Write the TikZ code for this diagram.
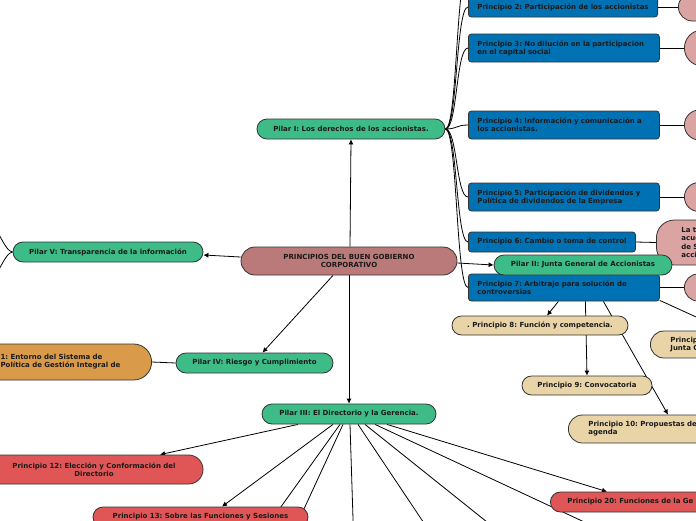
\documentclass[tikz,border=0pt]{standalone}
\usepackage{fontspec}
\setmainfont{DejaVu Sans}
\usetikzlibrary{arrows.meta,backgrounds}
\definecolor{raizc}{HTML}{BA7A79}
\definecolor{pilarc}{HTML}{3DBC87}
\definecolor{princc}{HTML}{0072B4}
\definecolor{hojac}{HTML}{DBA4A3}
\definecolor{temac}{HTML}{E9D4A7}
\definecolor{entornoc}{HTML}{D99B49}
\definecolor{dirc}{HTML}{E05656}
\definecolor{bordec}{HTML}{333333}
\definecolor{textoc}{HTML}{1A1A1A}
\tikzset{
  base/.style={draw=bordec, line width=0.8pt, text=textoc, inner sep=0pt,
    font=\fontsize{7}{8}\selectfont\bfseries\frenchspacing},
  raizbox/.style={base, fill=raizc, minimum height=28pt, rounded corners=14pt, align=center},
  pilarbox/.style={base, fill=pilarc, minimum height=20pt, rounded corners=10pt, align=center},
  princbox/.style={base, fill=princc, anchor=west, rounded corners=3pt, align=left, inner xsep=9pt},
  hojabox/.style={base, fill=hojac, anchor=west, minimum width=60pt},
  temabox/.style={base, fill=temac, minimum height=19pt, rounded corners=9.5pt, align=center},
  dirbox/.style={base, fill=dirc, minimum height=20pt, rounded corners=10pt, align=center},
  rama/.style={line width=0.8pt},
  flecha/.style={line width=0.8pt, -{Latex[length=5pt,width=5pt]}},
}
\begin{document}
\begin{tikzpicture}[x=1pt,y=-1pt]
\useasboundingbox (0,0) rectangle (696,520);
\clip (0,0) rectangle (696,520);
% centro y pilares
\node[raizbox, minimum width=216pt] (raiz) at (349,261) {PRINCIPIOS DEL BUEN GOBIERNO\\CORPORATIVO};
\node[pilarbox, minimum width=188pt] (pilarI) at (351,129) {Pilar I: Los derechos de los accionistas.};
\node[pilarbox, minimum width=190pt] (pilarV) at (108,252) {Pilar V: Transparencia de la información};
\node[pilarbox, minimum width=157pt] (pilarIV) at (254.5,363) {Pilar IV: Riesgo y Cumplimiento};
\node[pilarbox, minimum width=174pt] (pilarIII) at (349,414) {Pilar III: El Directorio y la Gerencia.};
% pilar I
\coordinate (p1) at (468,-30);
\node[princbox, minimum width=186pt, minimum height=20pt] (p2) at (468,7) {Principio 2: Participación de los accionistas};
\node[princbox, text width=173pt, minimum height=28pt] (p3) at (468,48) {Principio 3: No dilución en la participación\\en el capital social};
\node[princbox, text width=173pt, minimum height=28pt] (p4) at (468,125) {Principio 4: Información y comunicación a\\los accionistas.};
\node[princbox, text width=173pt, minimum height=28pt] (p5) at (468,197) {Principio 5: Participación de dividendos y\\Política de dividendos de la Empresa};
\node[princbox, minimum width=164pt, minimum height=20pt] (p6) at (468,242) {Principio 6: Cambio o toma de control};
\node[princbox, text width=173pt, minimum height=27pt] (p7) at (468,287.5) {Principio 7: Arbitraje para solución de\\controversias};
\node[hojabox, minimum height=28pt, rounded corners=14pt] (h2) at (678,7) {};
\node[hojabox, minimum height=36pt, rounded corners=18pt] (h3) at (684,48) {};
\node[hojabox, minimum height=30pt, rounded corners=15pt] (h4) at (684,125) {};
\node[hojabox, minimum height=29pt, rounded corners=14.5pt] (h5) at (684,197) {};
\node[hojabox, minimum height=45pt, rounded corners=18pt, align=left, inner xsep=25pt, text width=40pt,
  font=\fontsize{7}{8.5}\selectfont\bfseries] (h6) at (656,242.5) {La t\\acue\\de S\\acci};
\node[hojabox, minimum height=27pt, rounded corners=13.5pt] (h7) at (684,287.5) {};
% pilar II
\node[pilarbox, minimum width=178pt] (pilarII) at (583,265) {Pilar II: Junta General de Accionistas};
\node[temabox, minimum width=176pt] (p8) at (540,325.5) {. Principio 8: Función y competencia.};
\node[temabox, minimum width=130pt] (p9) at (587,385.5) {Principio 9: Convocatoria};
\node[temabox, anchor=west, minimum height=28pt, rounded corners=14pt, align=left, inner xsep=20pt, text width=160pt] (p10) at (568,429) {Principio 10: Propuestas de\\agenda};
\node[temabox, anchor=west, minimum height=27pt, rounded corners=13.5pt, align=left, inner xsep=20pt, text width=60pt] (juntaG) at (650,344.5) {Princip\\Junta G};
\coordinate (p7fuera) at (740,337);
% pilar IV
\node[base, fill=entornoc, anchor=east, minimum height=36pt, rounded corners=18pt, align=left, inner xsep=21pt, text width=130pt] (entorno) at (152,362) {1: Entorno del Sistema de\\Política de Gestión Integral de};
% pilar V
\coordinate (v1) at (-12,222);
\coordinate (v2) at (-12,282);
% pilar III
\node[dirbox, minimum width=218pt, minimum height=29pt, rounded corners=14.5pt] (p12) at (94,469.5) {Principio 12: Elección y Conformación del\\Directorio};
\node[dirbox, minimum width=215pt] (p13) at (200.5,517) {Principio 13: Sobre las Funciones y Sesiones};
\node[dirbox, anchor=west, align=left, inner xsep=17pt, text width=150pt] (p20) at (550,502) {Principio 20: Funciones de la Ge};
\coordinate (d1) at (250,550);
\coordinate (d2) at (285,550);
\coordinate (d3) at (354,550);
\coordinate (d4) at (442,550);
\coordinate (d5) at (522,550);
\coordinate (d6) at (640,548);

\begin{scope}[on background layer]
\clip (0,0) rectangle (696,520);
\draw[flecha] ([xshift=1pt]raiz.north) -- (pilarI.south);
\draw[flecha] ([yshift=4pt]raiz.west) -- ([yshift=-3pt]pilarV.east);
\draw[flecha] ([xshift=-16pt]raiz.south) -- ([xshift=8pt]pilarIV.north);
\draw[flecha] (raiz.south) -- (pilarIII.north);
\draw[flecha] ([yshift=-2pt]raiz.east) -- (pilarII.west);
\draw[rama] (pilarI.east) .. controls +(12,0) and +(-12,0) .. (p1);
\draw[rama] (pilarI.east) .. controls +(12,0) and +(-12,0) .. (p2.west);
\draw[rama] (pilarI.east) .. controls +(12,0) and +(-12,0) .. (p3.west);
\draw[rama] (pilarI.east) .. controls +(12,0) and +(-12,0) .. (p4.west);
\draw[rama] (pilarI.east) .. controls +(12,0) and +(-12,0) .. (p5.west);
\draw[rama] (pilarI.east) .. controls +(12,0) and +(-12,0) .. (p6.west);
\draw[rama] (pilarI.east) .. controls +(12,0) and +(-12,0) .. (p7.west);
\draw[rama] (p2.east) -- (h2.west);
\draw[rama] (p3.east) -- (h3.west);
\draw[rama] (p4.east) -- (h4.west);
\draw[rama] (p5.east) -- (h5.west);
\draw[rama] (p6.east) -- (h6.west);
\draw[rama] (p7.east) -- (h7.west);
\draw[flecha] ([xshift=-5.5pt]p7.south) -- ([xshift=7pt]p8.north);
\draw[flecha] ([xshift=21.5pt]p7.south) -- (p9.north);
\draw[flecha] ([xshift=39.5pt]p7.south) -- ([xshift=100pt]p10.north west);
\draw[rama] ([yshift=1pt]p7.south east) -- (p7fuera);
\draw[rama] (pilarIV.west) -- (entorno.east);
\draw[rama] (pilarV.west) .. controls +(-8,0) and +(8,0) .. (v1);
\draw[rama] (pilarV.west) .. controls +(-8,0) and +(8,0) .. (v2);
\draw[flecha] ([xshift=-51pt]pilarIII.south) -- ([xshift=66pt]p12.north);
\draw[flecha] ([xshift=-16pt]pilarIII.south) -- ([xshift=21.5pt]p13.north);
\draw[rama] ([xshift=-9pt]pilarIII.south) -- (d1);
\draw[rama] ([xshift=-6pt]pilarIII.south) -- (d2);
\draw[rama] ([xshift=1pt]pilarIII.south) -- (d3);
\draw[rama] ([xshift=9pt]pilarIII.south) -- (d4);
\draw[rama] ([xshift=16pt]pilarIII.south) -- (d5);
\draw[rama] ([xshift=26pt]pilarIII.south) -- (d6);
\draw[flecha] ([xshift=38pt]pilarIII.south) -- ([xshift=57pt]p20.north west);
\end{scope}
\end{tikzpicture}
\end{document}
